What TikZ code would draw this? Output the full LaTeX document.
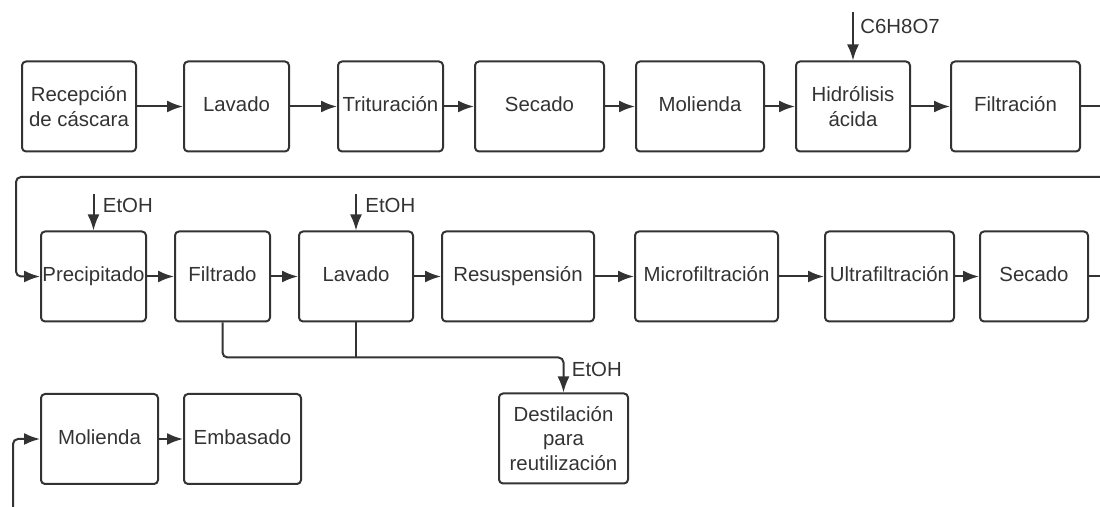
\documentclass[tikz,border=0pt]{standalone}
\usepackage{fontspec}
\setmainfont{Liberation Sans}
\usepackage{xcolor}
\usetikzlibrary{arrows.meta,positioning}
\definecolor{inkgray}{HTML}{333333}
\tikzset{
  flowbox/.style={draw=inkgray, line width=1pt, rounded corners=2pt, align=center, inner sep=0pt, minimum height=45pt, text=inkgray, font=\fontsize{10.2pt}{12.2pt}\selectfont},
  oneline/.style={text height=7.6pt, text depth=2.2pt},
  flowarrow/.style={-{Latex[length=8pt,width=6pt]}, line width=1pt, draw=inkgray, rounded corners=2.5pt},
  flowline/.style={line width=1pt, draw=inkgray, rounded corners=2.5pt},
  flowlabel/.style={anchor=west, inner sep=0pt, text=inkgray, font=\fontsize{10.2pt}{12.2pt}\selectfont}
}

\begin{document}
\begin{tikzpicture}[x=0.5pt, y=-0.5pt]
  \useasboundingbox (0,0) rectangle (1100,507);

  % first row
  \node[flowbox, minimum width=57pt] (recep) at (79,106.5) {Recepción\\de cáscara};
  \node[flowbox, oneline, minimum width=52.5pt, right=23pt of recep] (lav) {Lavado};
  \node[flowbox, oneline, minimum width=52.5pt, right=23.5pt of lav] (trit) {Trituración};
  \node[flowbox, oneline, minimum width=64.5pt, right=15pt of trit] (sec) {Secado};
  \node[flowbox, oneline, minimum width=64pt, right=15pt of sec] (mol) {Molienda};
  \node[flowbox, minimum width=57pt, right=15pt of mol] (hidro) {Hidrólisis\\ácida};
  \node[flowbox, oneline, minimum width=64.5pt, right=19.5pt of hidro] (filt) {Filtración};

  % second row
  \node[flowbox, oneline, minimum width=52.5pt] (prec) at (93.5,276.5) {Precipitado};
  \node[flowbox, oneline, minimum width=47.5pt, right=13.5pt of prec] (filtb) {Filtrado};
  \node[flowbox, oneline, minimum width=57pt, right=13.5pt of filtb] (lavb) {Lavado};
  \node[flowbox, oneline, minimum width=76pt, right=13.5pt of lavb] (resus) {Resuspensión};
  \node[flowbox, oneline, minimum width=71.5pt, right=19.5pt of resus] (micro) {Microfiltración};
  \node[flowbox, oneline, minimum width=64.5pt, right=22.5pt of micro] (ultra) {Ultrafiltración};
  \node[flowbox, oneline, minimum width=54pt, right=12pt of ultra] (secb) {Secado};

  % third row
  \node[flowbox, oneline, minimum width=58.5pt] (molb) at (99.5,439) {Molienda};
  \node[flowbox, oneline, minimum width=58.5pt, right=12pt of molb] (emb) {Embasado};
  \node[flowbox, minimum width=64.5pt] (dest) at (563.5,438.5) {Destilación\\para\\reutilización};

  % free ends
  \coordinate (acid) at ([yshift=24pt]hidro.north);
  \coordinate (etohA) at ([yshift=18pt]prec.north);
  \coordinate (etohB) at ([yshift=18pt]lavb.north);
  \coordinate (outA) at (1100,106.5);
  \coordinate (inB) at (1100,177);
  \coordinate (outB) at (1100,276.5);
  \coordinate (inC) at (13,507);
  \coordinate (collect) at ([yshift=-17.5pt]lavb.south);

  \draw[flowarrow] (recep) -- (lav);
  \draw[flowarrow] (lav) -- (trit);
  \draw[flowarrow] (trit) -- (sec);
  \draw[flowarrow] (sec) -- (mol);
  \draw[flowarrow] (mol) -- (hidro);
  \draw[flowarrow] (hidro) -- (filt);
  \draw[flowline] (filt) -- (outA);

  \draw[flowarrow] (inB) -| ([xshift=-12pt]prec.west) -- (prec.west);
  \draw[flowarrow] (prec) -- (filtb);
  \draw[flowarrow] (filtb) -- (lavb);
  \draw[flowarrow] (lavb) -- (resus);
  \draw[flowarrow] (resus) -- (micro);
  \draw[flowarrow] (micro) -- (ultra);
  \draw[flowarrow] (ultra) -- (secb);
  \draw[flowline] (secb) -- (outB);

  \draw[flowarrow] (inC) |- (molb.west);
  \draw[flowarrow] (molb) -- (emb);

  \draw[flowarrow] (acid) -- (hidro.north);
  \node[flowlabel] at ([xshift=3.5pt,yshift=-7pt]acid) {C6H8O7};
  \draw[flowarrow] (etohA) -- (prec.north);
  \node[flowlabel] at ([xshift=4.5pt,yshift=-5.5pt]etohA) {EtOH};
  \draw[flowarrow] (etohB) -- (lavb.north);
  \node[flowlabel] at ([xshift=4.5pt,yshift=-5.5pt]etohB) {EtOH};

  \draw[flowline] (lavb.south) -- (collect);
  \draw[flowarrow] (filtb.south) |- (collect) -| (dest.north);
  \node[flowlabel] at ([xshift=4pt,yshift=11.5pt]dest.north) {EtOH};
\end{tikzpicture}
\end{document}
